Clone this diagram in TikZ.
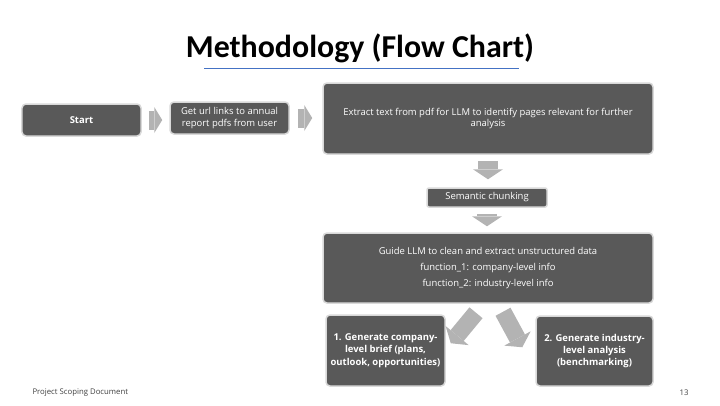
\documentclass[tikz,border=0pt]{standalone}
\usepackage{fontspec}
\setmainfont{Carlito}
\newfontfamily\bodyfont{Open Sans}
\usetikzlibrary{arrows.meta,calc}

\definecolor{boxgray}{HTML}{595959}
\definecolor{edgegray}{HTML}{D9D9D9}
\definecolor{arrowgray}{HTML}{B3B3B3}
\definecolor{ruleblue}{HTML}{4472C4}

\tikzset{
  stepbox/.style={fill=boxgray,draw=edgegray,line width=1.5bp,rounded corners=4bp,
    text=white,align=center,inner sep=2bp,font=\bodyfont\fontsize{9.5}{12}\selectfont},
  boldbox/.style={stepbox,font=\bodyfont\fontsize{9.5}{12.5}\selectfont\bfseries},
  harrow/.style={draw=arrowgray,line width=19bp,-{Triangle[length=8bp,width=26bp,line width=0pt]}},
  varrow/.style={draw=arrowgray,line width=20bp,-{Triangle[length=10bp,width=30bp,line width=0pt]}},
}

\begin{document}
\begin{tikzpicture}[x=1bp,y=-1bp]
  \useasboundingbox (0,0) rectangle (720,405);
  \node[font=\fontsize{32}{32}\selectfont\bfseries] (title) at (360,48) {Methodology (Flow Chart)};
  \draw[ruleblue,line width=1bp] (204,68) -- (519,68);

  \node[boldbox,minimum width=119bp,minimum height=32bp] (start) at (81.5,120) {Start};
  \node[stepbox,minimum width=119bp,minimum height=32bp] (url) at (229.5,118)
        {Get url links to annual\\report pdfs from user};
  \node[stepbox,minimum width=330bp,minimum height=71bp] (extract) at (488,118.5)
        {Extract text from pdf for LLM to identify pages relevant for further\\analysis};
  \node[stepbox,rounded corners=2bp,minimum width=120bp,minimum height=19bp] (chunk) at (487,197.5)
        {Semantic chunking};
  \node[stepbox,minimum width=330bp,minimum height=70bp] (guide) at (488,268)
        {Guide LLM to clean and extract unstructured data\\[4bp]
         function\_1: company-level info\\[4bp]
         function\_2: industry-level info};
  \node[boldbox,minimum width=119bp,minimum height=71bp] (brief) at (385.5,350.5)
        {1. Generate company-\\level brief (plans,\\outlook, opportunities)};
  \node[boldbox,minimum width=117bp,minimum height=70bp] (bench) at (594.5,351)
        {2. Generate industry-\\level analysis\\(benchmarking)};

  \draw[harrow,shorten <=7bp,shorten >=7bp] (start.east) -- (start.east -| url.west);
  \draw[harrow,shorten <=8bp,shorten >=10bp] (url.east) -- (url.east -| extract.west);
  \draw[varrow,shorten <=6bp,shorten >=8bp] (extract.south) -- (extract.south |- chunk.north);
  \draw[varrow,shorten <=6bp,shorten >=6bp] (chunk.south) -- (chunk.south |- guide.north);
  \draw[varrow,line width=17bp] ($(guide.south)+(-12,9)$) -- ($(brief.north east)+(5,29)$);
  \draw[varrow,line width=17bp] ($(guide.south)+(15,8)$) -- ($(bench.north west)+(-13,32)$);

  \node[anchor=west,font=\bodyfont\fontsize{7.8}{9}\selectfont,text=black!75] (doc) at (29,393) {Project Scoping Document};
  \node[anchor=east,font=\bodyfont\fontsize{7.8}{9}\selectfont,text=black!75] (page) at (692,393) {13};
\end{tikzpicture}
\end{document}
